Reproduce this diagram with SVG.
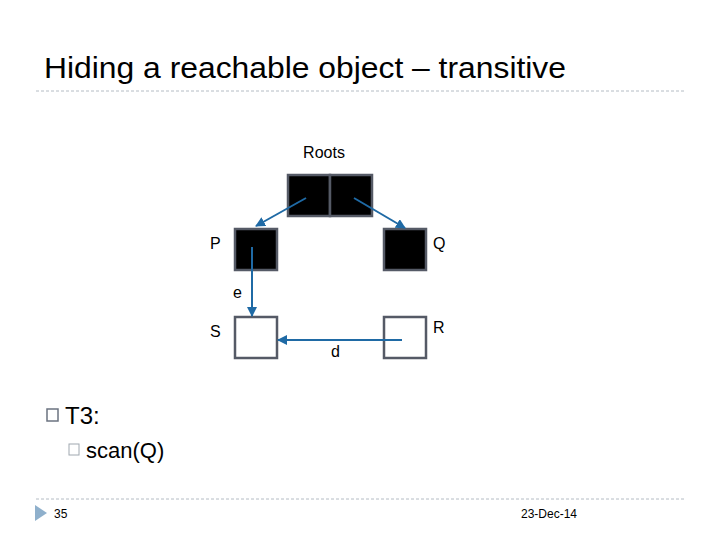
<svg xmlns="http://www.w3.org/2000/svg" width="720" height="540" viewBox="0 0 720 540">
<style>
text{font-family:"Liberation Sans",Arial,sans-serif;fill:#000}
.blk{fill:#000;stroke:#555a66;stroke-width:2.5}
.wht{fill:#fff;stroke:#555a66;stroke-width:2.5}
.c{stroke:#1f6aa5;stroke-width:2;fill:none;marker-end:url(#a)}
.dash{stroke:#b4bcc4;stroke-width:1;stroke-dasharray:3,2}
.l{font-size:16px}
</style>
<defs><marker id="a" viewBox="0 0 10 10" refX="9" refY="5" markerWidth="5" markerHeight="5" orient="auto"><path d="M0,0L10,5L0,10z" fill="#1f6aa5"/></marker></defs>
<rect width="720" height="540" fill="#fff"/>
<text x="44" y="78" font-size="29" textLength="522" lengthAdjust="spacingAndGlyphs">Hiding a reachable object – transitive</text>
<line class="dash" x1="36" y1="91" x2="686" y2="91"/>
<line class="dash" x1="36" y1="499" x2="686" y2="499"/>
<g id="roots"><rect class="blk" x="288" y="175" width="42" height="41"/><rect class="blk" x="330" y="175" width="42" height="41"/><text class="l" x="324" y="158" text-anchor="middle">Roots</text></g>
<g id="P"><rect class="blk" x="235" y="229" width="42" height="41"/><text class="l" x="210" y="249">P</text></g>
<g id="Q"><rect class="blk" x="384" y="229" width="42" height="41"/><text class="l" x="433" y="249">Q</text></g>
<g id="S"><rect class="wht" x="235" y="317" width="42" height="41"/><text class="l" x="210" y="337">S</text></g>
<g id="R"><rect class="wht" x="384" y="317" width="42" height="41"/><text class="l" x="433" y="333">R</text></g>
<g id="connectors">
<line class="c" x1="306" y1="198" x2="256" y2="226"/>
<line class="c" x1="354" y1="198" x2="405" y2="228"/>
<line class="c" x1="252" y1="247" x2="252" y2="316"/>
<line class="c" x1="402" y1="340" x2="278" y2="340"/>
<text class="l" x="233" y="298">e</text>
<text class="l" x="331" y="357">d</text>
</g>
<rect x="47" y="409" width="11" height="12" fill="none" stroke="#6b7380" stroke-width="1.5"/>
<text x="65" y="424" font-size="24">T3:</text>
<rect x="69" y="444" width="10" height="11" fill="none" stroke="#a0a8b0" stroke-width="1"/>
<text x="86" y="458" font-size="22">scan(Q)</text>
<path d="M35,505L47,513L35,521z" fill="#8fb0cc"/>
<text x="54" y="518" font-size="12" fill="#555">35</text>
<text x="577" y="518" font-size="12" text-anchor="end">23-Dec-14</text>
</svg>
